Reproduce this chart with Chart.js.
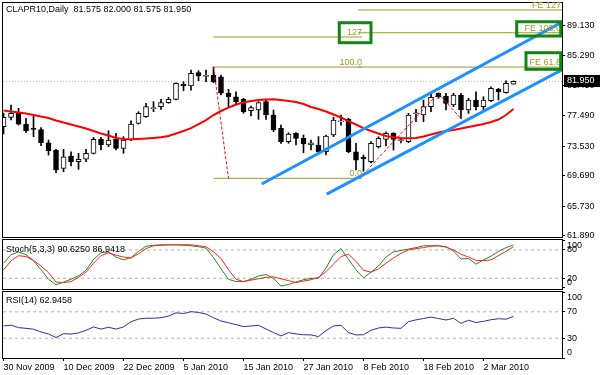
<!DOCTYPE html>
<html>
<head>
<meta charset="utf-8">
<script src="https://cdn.jsdelivr.net/npm/chart.js@4.4.1/dist/chart.umd.min.js"></script>
<style>
  body { margin: 0; background: #fff; }
  #wrap { position: relative; width: 600px; height: 375px; overflow: hidden; }
  canvas { position: absolute; left: 0; }
</style>
</head>
<body>
<div id="wrap">
  <canvas id="main" width="600" height="240" style="top:0"></canvas>
  <canvas id="stoch" width="600" height="60" style="top:232px"></canvas>
  <canvas id="rsi" width="600" height="91" style="top:284px"></canvas>
</div>
<script>
// dados do grafico - CLAPR10 diario
var symbolTitle = 'CLAPR10,Daily  81.575 82.000 81.575 81.950';
var stochTitle = 'Stoch(5,3,3) 90.6250 86.9418';
var rsiTitle = 'RSI(14) 62.9458';

// rotulos de data (um a cada 8 barras)
var dateLabels = ['30 Nov 2009', '10 Dec 2009', '22 Dec 2009', '5 Jan 2010', '15 Jan 2010',
                  '27 Jan 2010', '8 Feb 2010', '18 Feb 2010', '2 Mar 2010'];
var dateTickBars = [0, 8, 16, 24, 32, 40, 48, 56, 64];

// velas
var opens = [76.06, 77.28, 77.80, 76.41, 75.85, 75.70, 73.99, 73.04, 70.67, 72.26,
             71.52, 71.84, 72.61, 74.43, 73.69, 74.43, 73.26, 74.34, 76.50, 77.36,
             78.40, 78.66, 79.18, 79.62, 81.55, 81.34, 83.07, 82.60, 82.77, 82.55,
             80.40, 79.95, 79.62, 78.14, 78.23, 79.31, 77.58, 75.86, 74.12, 75.21,
             74.56, 73.69, 73.69, 72.82, 74.99, 76.70, 77.02, 72.82, 72.10, 71.52,
             73.47, 74.43, 75.21, 74.25, 74.12, 77.75, 77.58, 78.66, 80.40, 80.05,
             78.88, 80.18, 78.23, 79.53, 78.66, 79.44, 80.91, 80.47, 81.575];
var highs = [77.84, 78.88, 78.45, 77.15, 77.49, 75.96, 74.34, 73.13, 73.13, 72.82,
             72.61, 73.13, 74.69, 74.69, 75.54, 75.21, 74.77, 76.84, 78.01, 79.10,
             79.31, 79.62, 79.88, 81.77, 81.90, 83.42, 83.33, 83.42, 83.80, 82.77,
             80.91, 80.60, 79.75, 78.75, 79.31, 79.62, 78.23, 76.28, 75.29, 75.29,
             74.99, 74.34, 74.77, 74.99, 77.28, 77.58, 77.15, 73.91, 72.39, 74.12,
             74.77, 75.41, 75.29, 74.60, 77.80, 78.32, 79.53, 80.40, 80.47, 80.40,
             80.40, 80.40, 79.75, 80.60, 79.95, 81.25, 81.04, 82.03, 82.00];
var lows = [75.12, 76.93, 76.28, 75.34, 74.77, 73.62, 72.39, 70.10, 70.23, 70.98,
            70.54, 71.52, 72.52, 73.04, 73.47, 73.04, 72.61, 74.25, 76.41, 77.28,
            78.01, 78.32, 79.10, 79.53, 80.73, 80.82, 82.03, 81.90, 81.77, 80.18,
            78.66, 78.88, 77.80, 77.45, 77.02, 77.02, 75.41, 73.91, 73.91, 73.69,
            72.69, 73.04, 72.69, 72.39, 74.77, 76.28, 72.69, 70.45, 70.30, 71.36,
            73.30, 73.56, 73.04, 73.95, 73.99, 76.71, 76.71, 78.01, 79.75, 78.23,
            78.66, 77.15, 77.80, 78.23, 78.23, 79.31, 79.53, 80.40, 81.575];
var closes = [77.28, 77.80, 76.41, 75.54, 75.72, 74.01, 72.95, 70.45, 72.17, 71.52,
              71.84, 72.61, 74.43, 73.69, 74.34, 73.26, 74.34, 76.41, 77.80, 78.66,
              78.50, 79.18, 79.62, 81.69, 81.35, 82.99, 82.64, 82.68, 81.90, 80.40,
              79.95, 79.31, 78.01, 78.53, 79.18, 77.58, 75.64, 74.12, 75.12, 74.56,
              73.82, 73.99, 72.82, 74.86, 76.93, 76.75, 72.82, 71.74, 71.90, 73.91,
              74.56, 75.21, 74.43, 74.30, 77.58, 77.85, 78.66, 79.88, 79.95, 79.10,
              80.18, 78.23, 79.53, 78.66, 79.53, 81.04, 80.60, 81.69, 81.95];

// media movel (linha vermelha)
var maValues = [78.16, 78.03, 77.91, 77.78, 77.58, 77.39, 77.19, 76.87, 76.61, 76.35,
                76.09, 75.83, 75.51, 75.18, 74.92, 74.60, 74.47, 74.43, 74.47, 74.53,
                74.60, 74.69, 74.86, 75.18, 75.51, 75.89, 76.41, 76.93, 77.58, 78.10,
                78.55, 78.94, 79.20, 79.40, 79.53, 79.59, 79.62, 79.53, 79.40, 79.27,
                79.01, 78.62, 78.36, 78.03, 77.65, 77.26, 76.80, 76.35, 75.89, 75.51,
                75.18, 74.86, 74.69, 74.60, 74.56, 74.60, 74.79, 75.05, 75.31, 75.51,
                75.64, 75.83, 76.02, 76.22, 76.41, 76.67, 77.00, 77.58, 78.36];

// estocastico
var stochK = [52, 70, 76, 70, 57, 38, 18, 6, 12, 18,
              25, 37, 60, 74, 76, 65, 59, 64, 77, 88,
              90, 91, 91, 91, 90, 89, 87, 84, 64, 40,
              18, 13, 13, 18, 25, 28, 20, 3.5, 7, 12,
              17, 20, 20, 42, 70, 83, 60, 38, 21, 33,
              46, 65, 76, 79, 82, 85, 89, 89, 89, 87,
              78, 61, 62, 50, 59, 67, 77, 85, 90.625];
var stochD = [38, 57, 68, 66, 58, 46, 32, 12, 11, 13,
              22, 33, 52, 68, 74, 69, 65, 63, 72, 83,
              89, 90, 91, 91, 91, 91, 89, 87, 76, 62,
              38, 18, 13, 16, 19, 22, 23, 19, 15, 11,
              14, 17, 22, 34, 50, 66, 71, 56, 37, 33,
              40, 52, 63, 73, 80, 83, 85, 88, 89, 86,
              80, 71, 65, 58, 57.5, 59, 68, 77, 86.94];

// RSI(14)
var rsiValues = [48.6, 49.7, 46, 45, 43.6, 39.5, 36.5, 31, 36.8, 36.3,
                 38, 42, 47, 43.8, 46.5, 43.8, 47, 55, 59, 60.3,
                 60.3, 61, 63.5, 68.5, 67.3, 70.2, 69, 66.6, 61, 56,
                 53.5, 50.5, 47.5, 48.5, 49.5, 44, 38.5, 33.5, 38.4, 36.5,
                 35.2, 35, 32.5, 41.5, 48.6, 49.5, 38.4, 35, 35.2, 42,
                 45.5, 46.8, 45.5, 45, 55, 57.8, 59.8, 62, 59.8, 57.6,
                 60.2, 52.5, 57.2, 53.8, 55.5, 58, 59.5, 58.8, 62.9458];

// marcas dos eixos
var priceTicks = [61.89, 65.73, 69.69, 73.53, 77.49, 81.45, 85.29, 89.13];
var stochTicks = [0, 20, 80, 100];
var stochLevels = [20, 80];
var rsiTicks = [0, 30, 70, 100];
var rsiLevels = [30, 70];

// fibonacci (barra, preco)
var fibLevels = [69.37, 83.80, 87.70];
var fibNames = ['0.0', '100.0', '127'];
var fibStart = 28, fibEnd = 47.8;
var fibAnchors = [[28, 83.80], [30, 69.37]];
var feLevels = [83.80, 88.25, 91.20];
var feNames = ['FE 61.8', 'FE 100.0', 'FE 127'];
var feStart = 47.3;
var feAnchors = [[47.53, 69.41], [57.97, 80.40], [61.09, 77.02]];

// canal de tendencia
var channelUpper = [[34.43, 68.63], [74.47, 89.63]];
var channelLower = [[43.09, 67.33], [74.47, 83.44]];

// retangulos verdes [barra1, preco1, barra2, preco2]
var boxes = [[44.77, 86.96, 49.0, 89.55], [68.43, 87.83, 74.3, 89.68], [69.67, 83.51, 74.3, 85.66]];

// configuracoes
var xMin = -0.07, xMax = 74.47;
var FONT = '9px "Liberation Sans", Arial, sans-serif';
var OLIVE = '#9b9b2a';
Chart.defaults.font.family = '"Liberation Sans", Arial, sans-serif';
Chart.defaults.font.size = 9;
Chart.defaults.color = '#000';

function pts(pairs) { return pairs.map(function (p) { return {x: p[0], y: p[1]}; }); }
function hline(x1, x2, v) { return [{x: x1, y: v}, {x: x2, y: v}]; }
function series(vals) { return vals.map(function (v, i) { return {x: i, y: v}; }); }
function lineSet(data, color, width, dash, order) {
  return {type: 'line', data: data, borderColor: color, borderWidth: width,
          borderDash: dash || [], pointRadius: 0, tension: 0, order: order};
}

function xAxis(show) {
  var ax = {type: 'linear', min: xMin, max: xMax, offset: false, display: show};
  if (show) {
    ax.afterBuildTicks = function (s) { s.ticks = dateTickBars.map(function (v) { return {value: v}; }); };
    ax.afterFit = function (s) { s.height = 17; s.paddingLeft = 0; s.paddingRight = 0; };
    ax.grid = {drawOnChartArea: false, drawTicks: true, tickLength: 3, color: '#000', tickColor: '#000'};
    ax.border = {display: false};
    ax.ticks = {autoSkip: false, maxRotation: 0, align: 'start', padding: 1,
                callback: function (v) { return dateLabels[dateTickBars.indexOf(v)]; }};
  }
  return ax;
}

function rightAxis(min, max, tickValues, fmt) {
  return {
    position: 'right', min: min, max: max,
    afterBuildTicks: function (s) { s.ticks = tickValues.map(function (v) { return {value: v}; }); },
    afterFit: function (s) { s.width = 38; s.paddingTop = 0; s.paddingBottom = 0; },
    grid: {drawOnChartArea: false, drawTicks: true, tickLength: 3, color: '#000', tickColor: '#000'},
    border: {display: false},
    ticks: {autoSkip: false, padding: 2, callback: fmt}
  };
}

// rotulos 0 e 100 empurrados para dentro do painel
function edgeLabel(v) {
  if (v === 100) return ['', '100'];
  if (v === 0) return ['0', ''];
  return String(v);
}

function panelPlugin(label, dy, extra) {
  return {
    id: 'panel',
    afterDraw: function (chart) {
      var ctx = chart.ctx, a = chart.chartArea;
      ctx.save();
      ctx.setLineDash([]);
      ctx.strokeStyle = '#000';
      ctx.lineWidth = 1;
      ctx.strokeRect(a.left - 0.5, a.top - 0.5, a.right - a.left + 1, a.bottom - a.top + 1);
      ctx.font = FONT;
      ctx.fillStyle = '#000';
      ctx.textAlign = 'left';
      ctx.textBaseline = 'middle';
      ctx.fillText(label, a.left + 3, a.top + dy);
      if (extra) extra(chart, ctx, a);
      ctx.restore();
    }
  };
}

function drawMainExtras(chart, ctx, a) {
  var x = chart.scales.x, y = chart.scales.y;
  ctx.font = FONT;
  ctx.fillStyle = OLIVE;
  ctx.textAlign = 'right';
  ctx.textBaseline = 'alphabetic';
  fibLevels.forEach(function (v, i) {
    ctx.fillText(fibNames[i], x.getPixelForValue(fibEnd), y.getPixelForValue(v) - 2);
  });
  feLevels.forEach(function (v, i) {
    ctx.fillText(feNames[i], a.right - 1, y.getPixelForValue(v) - 2);
  });
  // retangulos verdes
  ctx.strokeStyle = '#138513';
  ctx.lineWidth = 3;
  boxes.forEach(function (b) {
    var x1 = x.getPixelForValue(b[0]), x2 = x.getPixelForValue(b[2]);
    var y1 = y.getPixelForValue(b[3]), y2 = y.getPixelForValue(b[1]);
    ctx.strokeRect(x1, y1, x2 - x1, y2 - y1);
  });
  // preco atual
  var last = closes[closes.length - 1];
  var py = Math.round(y.getPixelForValue(last));
  ctx.fillStyle = '#000';
  ctx.fillRect(a.right + 2, py - 6, 36, 12);
  ctx.fillStyle = '#fff';
  ctx.textAlign = 'left';
  ctx.textBaseline = 'middle';
  ctx.fillText(last.toFixed(3), a.right + 5, py);
}

var baseOptions = {
  responsive: false, animation: false, devicePixelRatio: 1, events: [],
  plugins: {legend: {display: false}, tooltip: {enabled: false}}
};
function opts(extra) { return Object.assign({}, baseOptions, extra); }

// painel principal
var wicks = highs.map(function (h, i) { return {x: i, y: [lows[i], h]}; });
var bodies = opens.map(function (o, i) { return {x: i, y: [o, closes[i]]}; });
var bodyColors = opens.map(function (o, i) { return closes[i] >= o ? '#ffffff' : '#000000'; });

var mainSets = [lineSet(hline(xMin, xMax, closes[closes.length - 1]), '#b8b8b8', 1, [1, 2], 10)];
fibLevels.forEach(function (v) { mainSets.push(lineSet(hline(fibStart, fibEnd, v), OLIVE, 1, null, 9)); });
feLevels.forEach(function (v) { mainSets.push(lineSet(hline(feStart, xMax, v), OLIVE, 1, null, 9)); });
mainSets.push({type: 'bar', data: wicks, backgroundColor: '#000', borderWidth: 0,
               barThickness: 1, grouped: false, order: 6});
mainSets.push({type: 'bar', data: bodies, backgroundColor: bodyColors, borderColor: '#000',
               borderWidth: 1, borderSkipped: false, barThickness: 5, minBarLength: 1,
               grouped: false, order: 5});
mainSets.push(lineSet(series(maValues), '#ff0000', 2, null, 4));
mainSets.push(lineSet(pts(fibAnchors), '#ff0000', 1, [3, 2], 3));
mainSets.push(lineSet(pts(feAnchors), '#ff0000', 1, [3, 2], 3));
mainSets.push(lineSet(pts(channelUpper), '#1e90ff', 3, null, 2));
mainSets.push(lineSet(pts(channelLower), '#1e90ff', 3, null, 2));

new Chart(document.getElementById('main'), {
  type: 'bar',
  data: {datasets: mainSets},
  options: opts({
    layout: {padding: {left: 3, top: 3, right: 0, bottom: 3}, autoPadding: false},
    scales: {
      x: xAxis(false),
      y: rightAxis(61.76, 92.11, priceTicks, function (v) { return v.toFixed(3); })
    }
  }),
  plugins: [panelPlugin(symbolTitle, 7, drawMainExtras)]
});

// painel estocastico
var stochSets = stochLevels.map(function (v) { return lineSet(hline(xMin, xMax, v), '#b4b4b4', 1, [3, 3], 5); });
stochSets.push(lineSet(series(stochK), '#218a21', 1, null, 2));
stochSets.push(lineSet(series(stochD), '#ff2020', 1, null, 1));

new Chart(document.getElementById('stoch'), {
  type: 'line',
  data: {datasets: stochSets},
  options: opts({
    layout: {padding: {left: 3, top: 8, right: 0, bottom: 3}, autoPadding: false},
    scales: {x: xAxis(false), y: rightAxis(-2.7, 101.2, stochTicks, edgeLabel)}
  }),
  plugins: [panelPlugin(stochTitle, 10)]
});

// painel RSI
var rsiSets = rsiLevels.map(function (v) { return lineSet(hline(xMin, xMax, v), '#b4b4b4', 1, [3, 3], 5); });
rsiSets.push(lineSet(series(rsiValues), '#2f2f9f', 1, null, 1));

new Chart(document.getElementById('rsi'), {
  type: 'line',
  data: {datasets: rsiSets},
  options: opts({
    layout: {padding: {left: 3, top: 8, right: 0, bottom: 0}, autoPadding: false},
    scales: {x: xAxis(true), y: rightAxis(0, 100, rsiTicks, edgeLabel)}
  }),
  plugins: [panelPlugin(rsiTitle, 9)]
});
</script>
</body>
</html>
